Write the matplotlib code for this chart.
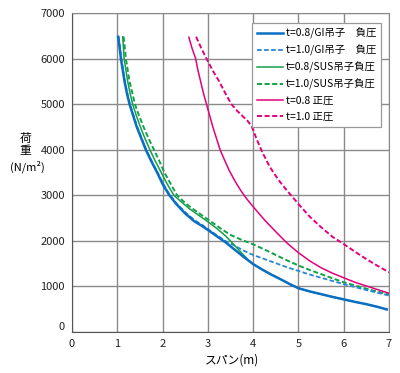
import matplotlib
matplotlib.use("Agg")
import matplotlib.pyplot as plt

plt.rcParams['font.family'] = ['Noto Sans CJK JP', 'DejaVu Sans']

# t=0.8/GI吊子 負圧
gi08_x = [1.02, 1.05, 1.08, 1.12, 1.16, 1.21, 1.27, 1.35, 1.43, 1.53, 1.63, 1.75, 1.88, 2.0, 2.13,
          2.3, 2.5, 2.7, 2.85, 3.0, 3.2, 3.4, 3.6, 3.8, 4.0, 4.2, 4.4, 4.6, 4.8, 5.0,
          5.25, 5.5, 5.75, 6.0, 6.25, 6.5, 6.75, 6.95]
gi08_y = [6480, 6250, 6000, 5750, 5500, 5250, 5000, 4750, 4500, 4250, 4000, 3750, 3500, 3250, 3030,
          2810, 2600, 2430, 2340, 2240, 2100, 1960, 1800, 1640, 1490, 1370, 1260, 1160, 1055, 960,
          890, 830, 770, 715, 660, 610, 550, 495]
# t=1.0/GI吊子 負圧
gi10_x = [1.03, 1.06, 1.09, 1.13, 1.17, 1.22, 1.28, 1.36, 1.44, 1.54, 1.64, 1.76, 1.89, 2.01, 2.14,
          2.31, 2.51, 2.71, 2.86, 3.0, 3.2, 3.4, 3.6, 3.8, 4.0, 4.25, 4.5, 4.75, 5.0,
          5.25, 5.5, 5.75, 6.0, 6.25, 6.5, 6.75, 7.0]
gi10_y = [6480, 6250, 6000, 5750, 5500, 5250, 5000, 4750, 4500, 4250, 4000, 3750, 3500, 3260, 3040,
          2820, 2620, 2450, 2360, 2260, 2120, 1990, 1890, 1780, 1690, 1600, 1510, 1420, 1340,
          1260, 1190, 1120, 1050, 985, 920, 860, 800]
# t=0.8/SUS吊子 負圧
sus08_x = [1.12, 1.135, 1.15, 1.19, 1.23, 1.28, 1.34, 1.42, 1.51, 1.61, 1.72, 1.84, 1.97, 2.1, 2.25,
           2.42, 2.6, 2.8, 3.0, 3.2, 3.4, 3.6, 3.75, 3.9, 4.0, 4.2, 4.4, 4.6, 4.8, 5.0,
           5.25, 5.5, 5.75, 6.0, 6.25, 6.5, 6.75, 6.95]
sus08_y = [6480, 6250, 6000, 5750, 5500, 5250, 5000, 4750, 4500, 4250, 4000, 3750, 3500, 3250, 3000,
           2850, 2700, 2560, 2420, 2270, 2100, 1890, 1730, 1570, 1490, 1370, 1260, 1160, 1055, 960,
           890, 830, 770, 715, 660, 610, 550, 495]
# t=1.0/SUS吊子 負圧
sus10_x = [1.14, 1.165, 1.19, 1.23, 1.27, 1.33, 1.39, 1.48, 1.58, 1.69, 1.81, 1.93, 2.04, 2.18, 2.32,
           2.5, 2.7, 2.9, 3.1, 3.3, 3.5, 3.75, 4.0, 4.25, 4.5, 4.75, 5.0,
           5.25, 5.5, 5.75, 6.0, 6.25, 6.5, 6.75, 7.0]
sus10_y = [6480, 6250, 6000, 5750, 5500, 5250, 5000, 4750, 4500, 4250, 4000, 3750, 3500, 3250, 3000,
           2830, 2680, 2540, 2400, 2260, 2130, 2020, 1925, 1810, 1690, 1570, 1460,
           1360, 1270, 1180, 1090, 1020, 950, 885, 825]
# t=0.8 正圧
pos08_x = [2.58, 2.65, 2.73, 2.78, 2.84, 2.9, 2.97, 3.04, 3.11, 3.19, 3.27, 3.37, 3.47, 3.6, 3.73,
           3.86, 4.0, 4.25, 4.5, 4.75, 5.0, 5.25, 5.5, 5.75, 6.0, 6.25, 6.5, 6.75, 7.0]
pos08_y = [6470, 6230, 6000, 5750, 5500, 5250, 5000, 4750, 4500, 4250, 4000, 3770, 3550, 3310, 3100,
           2920, 2750, 2460, 2200, 1950, 1740, 1560, 1410, 1290, 1190, 1090, 1010, 930, 850]
# t=1.0 正圧
pos10_x = [2.74, 2.85, 2.97, 3.1, 3.25, 3.38, 3.52, 3.65, 3.78, 3.88, 3.97, 4.07, 4.2, 4.37, 4.55,
           4.75, 5.0, 5.25, 5.5, 5.75, 6.0, 6.25, 6.5, 6.75, 7.0]
pos10_y = [6480, 6240, 6000, 5750, 5500, 5250, 5000, 4850, 4725, 4630, 4510, 4250, 3950, 3620, 3350,
           3100, 2810, 2530, 2300, 2090, 1930, 1760, 1600, 1450, 1310]

labels = ['t=0.8/GI吊子\u3000負圧', 't=1.0/GI吊子\u3000負圧', 't=0.8/SUS吊子負圧',
          't=1.0/SUS吊子負圧', 't=0.8 正圧', 't=1.0 正圧']

blue = '#0a6fc2'
blue2 = '#2a86d6'
green = '#12a04a'
pink = '#e5007f'

fig = plt.figure(figsize=(4.0, 3.73), dpi=100)
ax = fig.add_axes([0.18, 0.11, 0.7925, 0.855])

dash = (2.6, 1.3)
l1, = ax.plot(gi08_x, gi08_y, color=blue, lw=1.8, zorder=6)
l2, = ax.plot(gi10_x, gi10_y, color=blue2, lw=1.3, dashes=dash, zorder=4)
l3, = ax.plot(sus08_x, sus08_y, color=green, lw=1.1, zorder=5)
l4, = ax.plot(sus10_x, sus10_y, color=green, lw=1.4, dashes=dash, zorder=3)
l5, = ax.plot(pos08_x, pos08_y, color=pink, lw=1.1, zorder=3)
l6, = ax.plot(pos10_x, pos10_y, color=pink, lw=1.4, dashes=dash, zorder=3)

ax.set_xlim(0, 7)
ax.set_ylim(0, 7000)
ax.set_xticks(range(0, 8))
ax.set_yticks(range(0, 7001, 1000))
ax.grid(True, color='#8a8a8a', lw=1.0)
ax.set_axisbelow(True)
for s in ['top', 'right']:
    ax.spines[s].set_color('#8a8a8a')
for s in ['left', 'bottom']:
    ax.spines[s].set_color('#555555')
ax.tick_params(length=0, labelsize=8, pad=5, colors='#222222')
ax.get_yticklabels()[0].set_va('bottom')

fig.text(0.58, 0.035, 'スパン(m)', ha='center', va='center', fontsize=8.5)
fig.text(0.063, 0.612, '荷\n重', ha='center', va='center', fontsize=8.5, linespacing=0.95)
fig.text(0.068, 0.552, '(N/m²)', ha='center', va='center', fontsize=8)

leg = ax.legend([l1, l2, l3, l4, l5, l6], labels, loc='upper right',
                bbox_to_anchor=(0.985, 0.98), fontsize=7.5, frameon=True,
                fancybox=False, edgecolor='#999999', framealpha=1,
                handlelength=2.5, handletextpad=0.2, labelspacing=0.55,
                borderpad=0.5, borderaxespad=0.3)
leg.get_frame().set_linewidth(0.9)

fig.savefig('out.png', dpi=100)
